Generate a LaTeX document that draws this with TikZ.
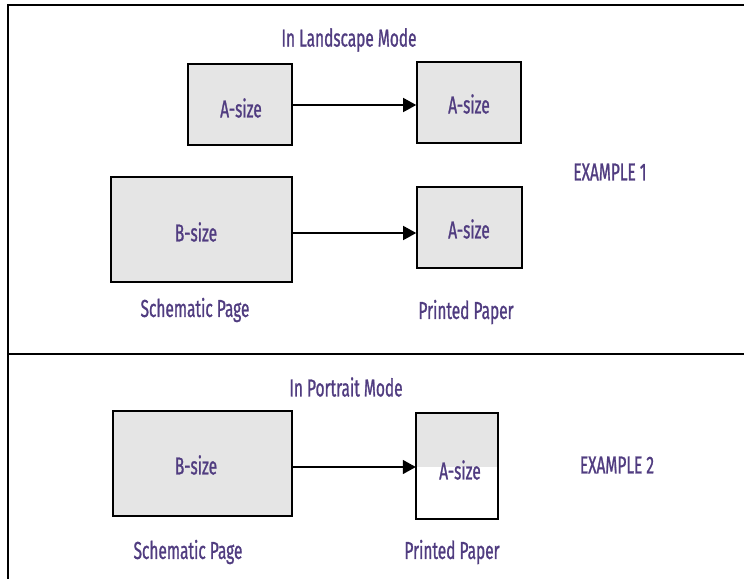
\documentclass[tikz,border=0pt]{standalone}
\usepackage{fontspec}
\setmainfont[FakeStretch=0.63,FakeBold=1.0]{Fira Sans}
\usetikzlibrary{arrows.meta}
\definecolor{txt}{RGB}{80,60,128}
\definecolor{boxgray}{RGB}{229,229,229}
\begin{document}
\begin{tikzpicture}[x=1pt,y=-1pt,
  page/.style={draw=black,line width=1.6pt,fill=boxgray,minimum width=#1,inner sep=0pt},
  lbl/.style={text=txt,font=\fontsize{24.5}{26}\selectfont,inner sep=0pt},
  conn/.style={line width=1.4pt,-{Triangle[length=13pt,width=14pt]}},
  frame/.style={line width=1.6pt}]
\useasboundingbox (0,0) rectangle (744,579);
% frame
\coordinate (tl) at (8,5);
\coordinate (tr) at (744,5);
\coordinate (bl) at (8,579);
\coordinate (ml) at (8,354);
\coordinate (mr) at (744,354);
\draw[frame] (tr) -- (tl) -- (bl);
\draw[frame] (ml) -- (mr);
% example 1
\node[lbl] (t1) at (349,40) {In Landscape Mode};
\node[page=104pt,minimum height=81pt] (a1) at (240,104.5) {};
\node[lbl] at (241,108) {A-size};
\node[page=104pt,minimum height=81pt] (a2) at (469,102.5) {};
\node[lbl] at (469,104) {A-size};
\draw[conn] (a1.east |- 0,105) -- (a2.west |- 0,105);
\node[page=181pt,minimum height=105pt] (b1) at (201.5,229.5) {};
\node[lbl] at (196,232) {B-size};
\node[page=105pt,minimum height=81pt] (a3) at (469.5,227.5) {};
\node[lbl] at (469,229) {A-size};
\draw[conn] (b1.east |- 0,233) -- (a3.west |- 0,233);
\node[lbl] (s1) at (195,310) {Schematic Page};
\node[lbl] (p1) at (466,312) {Printed Paper};
\node[lbl] (e1) at (610,172) {EXAMPLE 1};
% example 2
\node[lbl] (t2) at (346,387) {In Portrait Mode};
\node[page=179pt,minimum height=105pt] (b2) at (202.5,463.5) {};
\node[lbl] at (196,465) {B-size};
\node[minimum width=82pt,minimum height=106pt,inner sep=0pt] (a4) at (457,466) {};
\fill[boxgray] (a4.north west) rectangle (a4.east |- 0,467);
\draw[line width=1.6pt] (a4.north west) rectangle (a4.south east);
\node[lbl] at (460,470) {A-size};
\draw[conn] (b2.east |- 0,467) -- (a4.west |- 0,467);
\node[lbl] (s2) at (188,552) {Schematic Page};
\node[lbl] (p2) at (452,552) {Printed Paper};
\node[lbl] (e2) at (617,465) {EXAMPLE 2};
\end{tikzpicture}
\end{document}
